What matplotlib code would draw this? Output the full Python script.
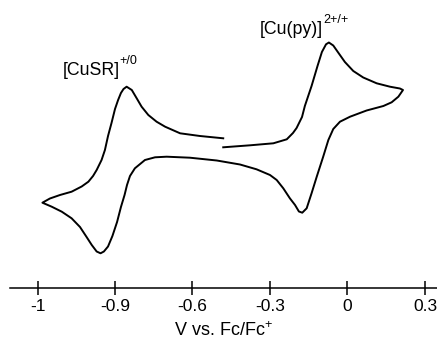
import matplotlib
matplotlib.use("Agg")
import matplotlib.pyplot as plt

plt.rcParams['font.family'] = ['Liberation Sans', 'DejaVu Sans']
plt.rcParams['mathtext.fontset'] = 'custom'
plt.rcParams['mathtext.rm'] = 'Liberation Sans'

# potential (V vs Fc/Fc+) and current (arb. units), in sweep order
volts = [-0.481, -0.377, -0.287, -0.235, -0.211, -0.197, -0.176, -0.165, -0.139,
         -0.116, -0.099, -0.083, -0.072, -0.055, -0.036, -0.010, 0.0225, 0.061,
         0.113, 0.1645, 0.203, 0.215,
         0.197, 0.171, 0.139, 0.074, 0.010, -0.029, -0.055, -0.074, -0.094,
         -0.119, -0.139, -0.158, -0.175, -0.188, -0.203, -0.223, -0.2485,
         -0.274, -0.300, -0.352, -0.416, -0.506, -0.610, -0.700, -0.745,
         -0.784, -0.823, -0.842, -0.8535, -0.863, -0.877, -0.892, -0.910,
         -0.927, -0.943, -0.956, -0.971, -0.990, -1.010, -1.0355, -1.068,
         -1.106, -1.145, -1.181,
         -1.152, -1.113, -1.068, -1.029, -1.003, -0.985, -0.971, -0.952,
         -0.939, -0.927, -0.9135, -0.900, -0.888, -0.877, -0.867, -0.855,
         -0.835, -0.816, -0.797, -0.771, -0.739, -0.706, -0.648, -0.571, -0.481]
current = [0.135, 0.235, 0.335, 0.535, 0.85, 1.10, 1.65, 2.20, 3.20,
           4.20, 4.90, 5.285, 5.375, 5.225, 4.875, 4.40, 3.95, 3.625,
           3.335, 3.165, 3.075, 3.0,
           2.665, 2.385, 2.20, 1.975, 1.665, 1.415, 1.05, 0.50, -0.335,
           -1.335, -2.165, -2.915, -3.135, -3.075, -2.75, -2.415, -1.915,
           -1.50, -1.25, -0.965, -0.725, -0.525, -0.385, -0.335, -0.365,
           -0.50, -0.915, -1.30, -1.75, -2.25, -2.85, -3.60, -4.30,
           -4.825, -5.075, -5.165, -5.075, -4.75, -4.35, -3.85, -3.415,
           -3.085, -2.835, -2.635,
           -2.425, -2.25, -2.085, -1.825, -1.585, -1.30, -1.0, -0.5,
           0.0, 0.70, 1.35, 2.05, 2.50, 2.85, 3.05, 3.165,
           3.0, 2.585, 2.165, 1.75, 1.415, 1.165, 0.835, 0.70, 0.585]

tick_pos = [-1.2, -0.9, -0.6, -0.3, 0.0, 0.3]
tick_labels = ['-1', '-0.9', '-0.6', '-0.3', '0', '0.3']

fig = plt.figure(figsize=(4.37, 3.43), dpi=100)
ax = fig.add_axes([10 / 437, 55 / 343, 427 / 437, 288 / 343])

ax.plot(volts, current, color='black', lw=1.4, solid_joinstyle='round')


def label(x, y, main, sup):
    t = ax.text(x, y, main, fontsize=12.8, ha='left', va='baseline')
    ax.annotate(sup, xy=(1, 0), xycoords=t, xytext=(0.2, 10.5),
                textcoords='offset points', fontsize=9, ha='left', va='baseline')


label(-1.104, 3.765, '[CuSR]', '+/0')
label(-0.339, 5.825, '[Cu(py)]', '2+/+')

ax.set_xlim(-1.3065, 0.3466)
ax.set_ylim(-6.9, 7.5)
ax.set_xticks(tick_pos)
ax.set_xticklabels(tick_labels, fontsize=12.5)
ax.tick_params(axis='x', direction='inout', length=9.5, width=1.1, pad=3.5)
ax.set_yticks([])
for s in ['top', 'left', 'right']:
    ax.spines[s].set_visible(False)
ax.spines['bottom'].set_linewidth(1.1)
ax.set_xlabel('V vs. Fc/Fc$^{\\mathrm{+}}$', fontsize=13, labelpad=5)

fig.savefig('out.png', dpi=100)
